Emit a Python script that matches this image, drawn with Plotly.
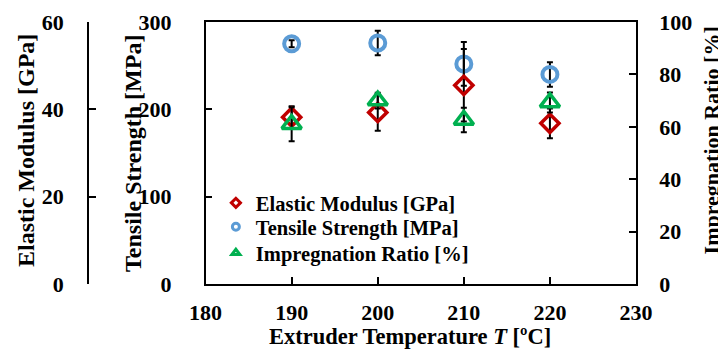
import plotly.graph_objects as go

temps = [190, 200, 210, 220]
modulus = [38.2, 39.3, 45.5, 36.8]
modulus_err = [2.5, 4.2, 8.3, 3.4]
tensile = [275, 276, 252, 240]
tensile_err = [4, 14, 25, 14]
ratio = [61, 70, 62.6, 69.3]
ratio_err = [6.5, 3, 4.7, 3.8]

names = ["Elastic Modulus [GPa]", "Tensile Strength [MPa]", "Impregnation Ratio [%]"]
x_title = "Extruder Temperature <i>T</i> [ºC]"
colors = ["#C00000", "#5B9BD5", "#00B050"]

# page body has an 8px margin; work in page coordinates and convert
OFF = 8
W, H = 726 - OFF, 358 - 2 * OFF
plot_l, plot_r, plot_t, plot_b = 205.7 - OFF, 636.5 - OFF, 22 - OFF, 284 - OFF
ML = 60
MR = W - plot_r
MT = plot_t
MB = H - plot_b
pw = W - ML - MR
ph = H - MT - MB

def px2x(px):  # page x -> paper fraction
    return (px - OFF - ML) / pw

def py2y(py):  # page y -> paper fraction
    return 1 - (py - OFF - MT) / ph

FAM = "Liberation Serif"
FONT = dict(family=FAM, size=22, color="black", weight=700)
TFONT = dict(family=FAM, size=24, color="black", weight=700)
RFONT = dict(family=FAM, size=22, color="black", weight=700)
XFONT = dict(family=FAM, size=22.5, color="black", weight=700)
LFONT = dict(family=FAM, size=20.5, color="black", weight=700)

fig = go.Figure()

def eb(vals):
    return dict(type="data", array=vals, visible=True, color="black", thickness=2, width=3)

fig.add_trace(go.Scatter(x=temps, y=modulus, yaxis="y2", mode="markers", showlegend=False,
                         error_y=eb(modulus_err),
                         marker=dict(symbol="diamond-open", size=14, color=colors[0], line=dict(width=3.5, color=colors[0]))))
fig.add_trace(go.Scatter(x=temps, y=tensile, yaxis="y", mode="markers", showlegend=False,
                         error_y=eb(tensile_err),
                         marker=dict(symbol="circle-open", size=15, color=colors[1], line=dict(width=4, color=colors[1]))))
fig.add_trace(go.Scatter(x=temps, y=ratio, yaxis="y3", mode="markers", showlegend=False,
                         error_y=eb(ratio_err),
                         marker=dict(symbol="triangle-up-open", size=17, color=colors[2], line=dict(width=3.5, color=colors[2]))))

# legend entries, one legend per row
syms = ["diamond-open", "circle-open", "triangle-up-open"]
legs = ["legend", "legend2", "legend3"]
row_y = [203, 227, 253]
for n, c, s, ya, lg in zip(names, colors, syms, ["y2", "y", "y3"], legs):
    fig.add_trace(go.Scatter(x=[None], y=[None], yaxis=ya, mode="markers", name="<b>" + n + "</b>",
                             legend=lg,
                             marker=dict(symbol=s, size=7, color=c, line=dict(width=3, color=c))))

leg_common = dict(xanchor="left", yanchor="middle", bgcolor="rgba(0,0,0,0)", font=LFONT, itemwidth=30)

axis_common = dict(showgrid=False, zeroline=False, showline=True, linecolor="black", linewidth=1.6,
                   ticks="inside", ticklen=7, tickwidth=1.5, tickcolor="black", tickfont=FONT)

titles = [
    dict(text="<b>" + names[0] + "</b>", x=26, y=151, angle=-90, font=TFONT),
    dict(text="<b>" + names[1] + "</b>", x=133, y=153, angle=-90, font=TFONT),
    dict(text="<b>" + names[2] + "</b>", x=712, y=140, angle=-90, font=RFONT),
    dict(text="<b>" + x_title + "</b>", x=410, y=336, angle=0, font=XFONT),
]

fig.update_layout(
    width=W, height=H,
    margin=dict(l=ML, r=MR, t=MT, b=MB, autoexpand=False),
    paper_bgcolor="white", plot_bgcolor="white",
    font=FONT,
    showlegend=True,
    legend=dict(x=px2x(216), y=py2y(row_y[0]), **leg_common),
    legend2=dict(x=px2x(216), y=py2y(row_y[1]), **leg_common),
    legend3=dict(x=px2x(216), y=py2y(row_y[2]), **leg_common),
    xaxis=dict(domain=[px2x(205.7), 1], range=[180, 230], dtick=10, mirror=True,
               ticklabelstandoff=8, **axis_common),
    yaxis=dict(range=[0, 300], dtick=100, anchor="x", side="left", ticklabelstandoff=28,
               **axis_common),
    yaxis2=dict(range=[0, 60], dtick=20, overlaying="y", anchor="free", side="left",
                position=px2x(88), ticklabelstandoff=19, **axis_common),
    yaxis3=dict(range=[0, 100], dtick=20, overlaying="y", anchor="x", side="right",
                ticklabelstandoff=17, **axis_common),
    annotations=[dict(text=t["text"], textangle=t["angle"], font=t["font"],
                      xref="paper", yref="paper", x=px2x(t["x"]), y=py2y(t["y"]),
                      xanchor="center", yanchor="middle", showarrow=False) for t in titles],
)

fig.write_html("out.html")
